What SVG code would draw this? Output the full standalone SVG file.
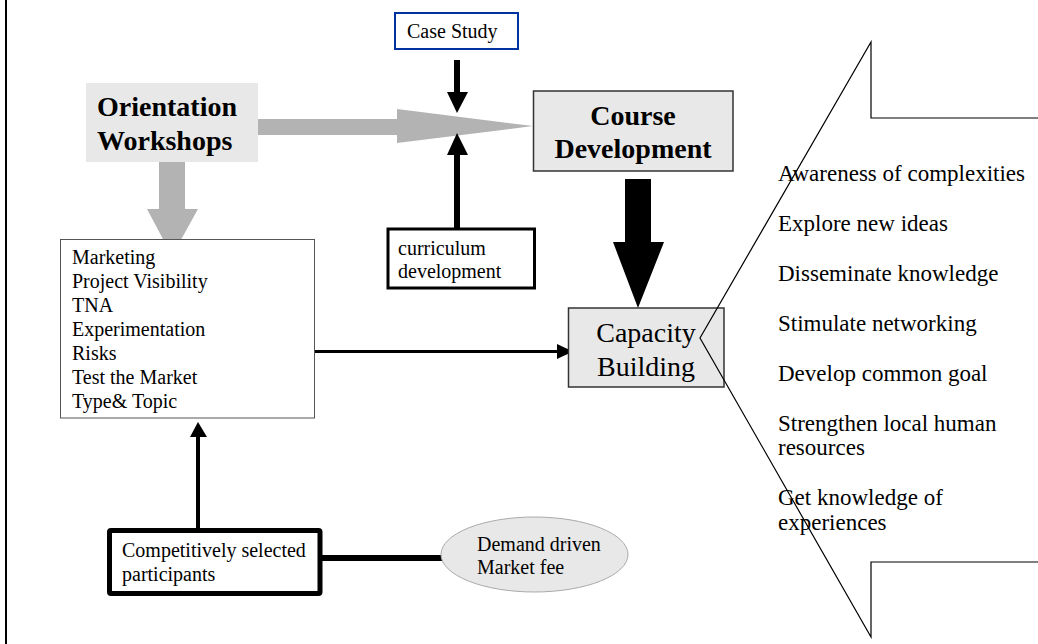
<svg xmlns="http://www.w3.org/2000/svg" width="1038" height="644" viewBox="0 0 1038 644">
  <style>
    text { font-family: "Liberation Serif", "Times New Roman", serif; fill: #000; }
    .t20 { font-size: 20px; }
    .t23 { font-size: 23px; }
    .big { font-size: 28px; font-weight: bold; }
    .mid { font-size: 28px; }
    .grey { fill: #b3b3b3; }
    .ink { fill: #000; }
  </style>

  <!-- page edge -->
  <line x1="6" y1="0" x2="6" y2="644" stroke="#000" stroke-width="2"/>

  <!-- connectors -->
  <g id="connectors">
    <!-- Orientation -> Course Development (wide grey) -->
    <polygon class="grey" points="258,119 397,119 397,109 533,126 397,143 397,135 258,135"/>
    <!-- Orientation -> list (wide grey) -->
    <polygon class="grey" points="159,162 185,162 185,209 198,209 172,256 147,209 159,209"/>
    <!-- Case Study down -->
    <polygon class="ink" points="454,60 460,60 460,92 468,92 457,113 447,92 454,92"/>
    <!-- curriculum development up -->
    <polygon class="ink" points="454,228 460,228 460,155 468,155 457,133 447,155 454,155"/>
    <!-- Course Development -> Capacity Building (wide black) -->
    <polygon class="ink" points="625,179 651,179 651,242 664,242 638,308 613,242 625,242"/>
    <!-- list -> Capacity Building -->
    <line x1="312" y1="351.5" x2="559" y2="351.5" stroke="#000" stroke-width="3"/>
    <polygon class="ink" points="557,344 573,351.5 557,359"/>
    <!-- participants -> list -->
    <line x1="198" y1="530" x2="198" y2="435" stroke="#000" stroke-width="4"/>
    <polygon class="ink" points="190,437 198,422 207,437"/>
    <!-- participants - demand driven -->
    <line x1="322" y1="558" x2="443" y2="558" stroke="#000" stroke-width="6"/>
  </g>

  <g id="case-study">
    <rect x="395" y="13" width="123" height="36" fill="#fff" stroke="#0033a0" stroke-width="2"/>
    <text class="t20" x="407" y="38">Case Study</text>
  </g>

  <g id="orientation-workshops">
    <rect x="86" y="83" width="172" height="79" fill="#e8e8e8"/>
    <text class="big" x="97" y="116">Orientation</text>
    <text class="big" x="97" y="150">Workshops</text>
  </g>

  <g id="course-development">
    <rect x="533.5" y="91" width="199.5" height="80" fill="#e8e8e8" stroke="#333" stroke-width="1.5"/>
    <text class="big" x="633" y="125" text-anchor="middle">Course</text>
    <text class="big" x="633" y="158" text-anchor="middle">Development</text>
  </g>

  <g id="curriculum-development">
    <rect x="388" y="229" width="146.5" height="59" fill="#fff" stroke="#000" stroke-width="3"/>
    <text class="t20" x="398" y="255">curriculum</text>
    <text class="t20" x="398" y="278">development</text>
  </g>

  <g id="activities">
    <rect x="60.5" y="239.5" width="254" height="178.5" fill="#fff" stroke="#555" stroke-width="1"/>
    <text class="t20" x="72" y="264">Marketing</text>
    <text class="t20" x="72" y="288">Project Visibility</text>
    <text class="t20" x="72" y="312">TNA</text>
    <text class="t20" x="72" y="336">Experimentation</text>
    <text class="t20" x="72" y="360">Risks</text>
    <text class="t20" x="72" y="384">Test the Market</text>
    <text class="t20" x="72" y="408">Type&amp; Topic</text>
  </g>

  <g id="capacity-building">
    <rect x="568.5" y="308" width="155.5" height="79" fill="#e8e8e8" stroke="#333" stroke-width="1.5"/>
    <text class="mid" x="646" y="342" text-anchor="middle">Capacity</text>
    <text class="mid" x="646" y="376" text-anchor="middle">Building</text>
  </g>

  <g id="participants">
    <rect x="109.5" y="530.5" width="210.5" height="63" rx="1.5" fill="#fff" stroke="#000" stroke-width="5"/>
    <text class="t20" x="122" y="557">Competitively selected</text>
    <text class="t20" x="122" y="581">participants</text>
  </g>

  <g id="demand-driven">
    <ellipse cx="534.5" cy="554.5" rx="93.5" ry="37.5" fill="#e8e8e8" stroke="#aaa" stroke-width="1"/>
    <text class="t20" x="477" y="551">Demand driven</text>
    <text class="t20" x="477" y="574">Market fee</text>
  </g>

  <g id="outcomes">
    <text class="t23" x="778" y="181">Awareness of complexities</text>
    <text class="t23" x="778" y="231">Explore new ideas</text>
    <text class="t23" x="778" y="281">Disseminate knowledge</text>
    <text class="t23" x="778" y="331">Stimulate networking</text>
    <text class="t23" x="778" y="381">Develop common goal</text>
    <text class="t23" x="778" y="431">Strengthen local human</text>
    <text class="t23" x="778" y="455">resources</text>
    <text class="t23" x="778" y="505">Get knowledge of</text>
    <text class="t23" x="778" y="530">experiences</text>
    <!-- callout outline pointing back at Capacity Building -->
    <polygon points="871,42 871,118 1045,118 1045,562 871,562 871,637 700,338" fill="none" stroke="#000" stroke-width="1.2"/>
  </g>
</svg>
